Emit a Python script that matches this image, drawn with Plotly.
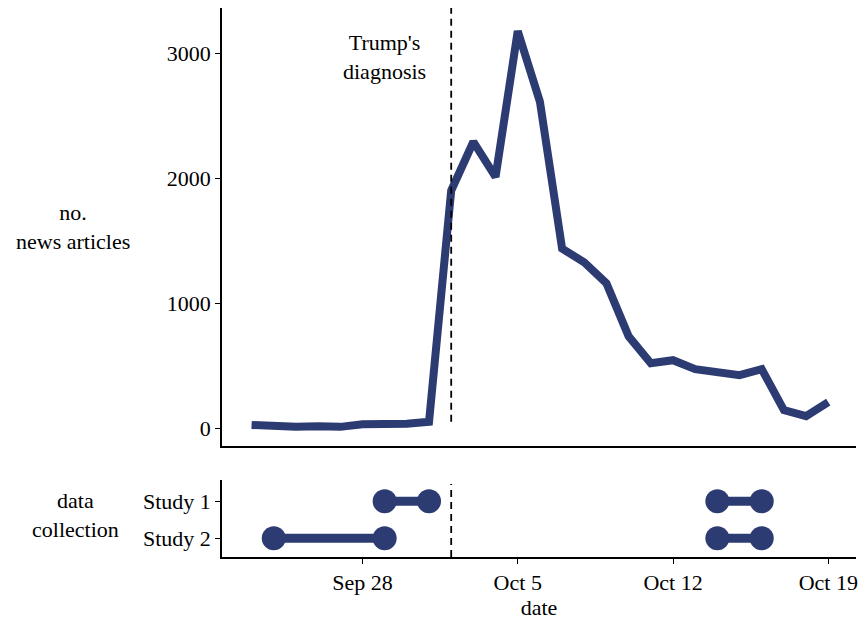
import plotly.graph_objects as go

dates = ["2020-09-23", "2020-09-24", "2020-09-25", "2020-09-26", "2020-09-27",
         "2020-09-28", "2020-09-29", "2020-09-30", "2020-10-01", "2020-10-02",
         "2020-10-03", "2020-10-04", "2020-10-05", "2020-10-06", "2020-10-07",
         "2020-10-08", "2020-10-09", "2020-10-10", "2020-10-11", "2020-10-12",
         "2020-10-13", "2020-10-14", "2020-10-15", "2020-10-16", "2020-10-17",
         "2020-10-18", "2020-10-19"]
articles = [25, 15, 10, 15, 10, 30, 30, 35, 50, 1900, 2290, 2010, 3175, 2610,
            1436, 1325, 1157, 734, 519, 543, 471, 440, 423, 471, 144, 96, 207]

study_names = ["Study 1", "Study 2"]
study_starts = [["2020-09-29", "2020-10-14"], ["2020-09-24", "2020-10-14"]]
study_ends = [["2020-10-01", "2020-10-16"], ["2020-09-29", "2020-10-16"]]

diagnosis_date = "2020-10-02"
x_tickvals = ["2020-09-28", "2020-10-05", "2020-10-12", "2020-10-19"]
x_ticktext = ["Sep 28", "Oct 5", "Oct 12", "Oct 19"]
y_tickvals = [0, 1000, 2000, 3000]

color = "#2d3b73"
font = dict(family="Liberation Serif, Times New Roman, serif", size=22, color="black")

fig = go.Figure()
fig.add_trace(go.Scatter(x=dates, y=articles, mode="lines",
                         line=dict(color=color, width=8),
                         xaxis="x", yaxis="y", showlegend=False))

for name, starts, ends in zip(study_names, study_starts, study_ends):
    for s, e in zip(starts, ends):
        fig.add_trace(go.Scatter(x=[s, e], y=[name, name], mode="lines+markers",
                                 line=dict(color=color, width=9),
                                 marker=dict(color=color, size=24),
                                 xaxis="x2", yaxis="y2", showlegend=False))

xrange = ["2020-09-21 16:00", "2020-10-20 06:00"]
axis_common = dict(showline=True, linecolor="black", linewidth=1.5,
                   showgrid=False, zeroline=False, tickfont=font,
                   ticks="outside", tickcolor="black", ticklen=5, tickwidth=1.2)

fig.update_layout(
    width=860, height=621,
    margin=dict(l=222, r=2, t=8, b=64),
    plot_bgcolor="white", paper_bgcolor="white",
    font=font,
    xaxis=dict(type="date", range=xrange, domain=[0, 1], anchor="y",
               showline=True, linecolor="black", linewidth=1.5,
               showgrid=False, zeroline=False, showticklabels=False, ticks=""),
    yaxis=dict(domain=[0.202, 1], range=[-144, 3360], tickvals=y_tickvals,
               anchor="x", **axis_common),
    xaxis2=dict(type="date", range=xrange, domain=[0, 1], anchor="y2",
                tickvals=x_tickvals, ticktext=x_ticktext,
                title=dict(text="date", font=font, standoff=4),
                **axis_common),
    yaxis2=dict(domain=[0, 0.140], type="category",
                categoryorder="array", categoryarray=["Study 2", "Study 1"],
                range=[-0.51, 1.57], anchor="x2", **axis_common),
)

fig.add_shape(type="line", x0=diagnosis_date, x1=diagnosis_date, y0=50, y1=3360,
              xref="x", yref="y", line=dict(color="black", width=1.8, dash="7px,5px"))
fig.add_shape(type="line", x0=diagnosis_date, x1=diagnosis_date, y0=0, y1=0.95,
              xref="x2", yref="y2 domain", line=dict(color="black", width=1.8, dash="7px,5px"))

fig.add_annotation(x="2020-09-29", y=2970, xref="x", yref="y",
                   text="Trump's<br>diagnosis", showarrow=False, font=font)
fig.add_annotation(x=0, y=0.601, xref="paper", yref="paper", xanchor="center",
                   yanchor="middle", xshift=-149, text="no.<br>news articles",
                   showarrow=False, font=font)
fig.add_annotation(x=0, y=0.0765, xref="paper", yref="paper", xanchor="center",
                   yanchor="middle", xshift=-147, text="data<br>collection",
                   showarrow=False, font=font)

fig.write_html("out.html", config={"displayModeBar": False},
               post_script="document.body.style.margin='0px';")
